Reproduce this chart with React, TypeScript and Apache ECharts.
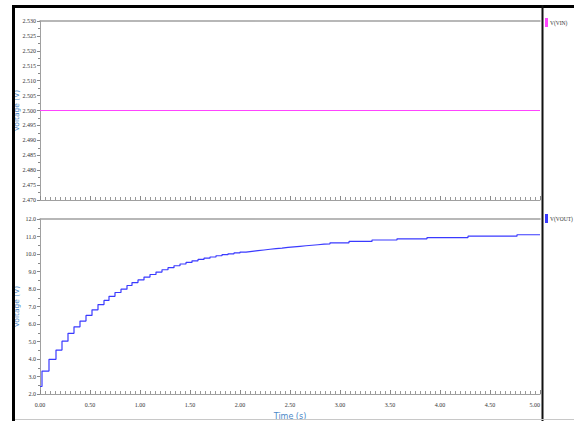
import React, { useEffect, useRef } from "react";
import * as echarts from "echarts";

// ---- data ----
const vinTime = [0.0, 5.0];
const vinLevel = [2.5, 2.5];

const voutTime = [
  0.0, 0.02, 0.09, 0.16, 0.22, 0.28, 0.34, 0.4, 0.46, 0.52, 0.58, 0.64, 0.69, 0.75, 0.81, 0.87, 0.92, 0.98,
  1.04, 1.1, 1.16, 1.22, 1.28, 1.34, 1.4, 1.46, 1.52, 1.58, 1.64, 1.7, 1.76, 1.82, 1.88, 1.94, 2.0, 2.06,
  2.12, 2.18, 2.24, 2.3, 2.36, 2.42, 2.48, 2.54, 2.6, 2.66, 2.72, 2.78, 2.84, 2.9, 3.09, 3.32, 3.57, 3.87,
  4.28, 4.77, 5.0,
];
const voutLevel = [
  2.43, 3.31, 3.98, 4.51, 5.02, 5.47, 5.84, 6.17, 6.49, 6.81, 7.11, 7.35, 7.58, 7.8, 7.99, 8.2, 8.37, 8.52,
  8.68, 8.83, 8.97, 9.1, 9.22, 9.33, 9.43, 9.52, 9.61, 9.69, 9.76, 9.83, 9.9, 9.96, 10.01, 10.06, 10.11,
  10.15, 10.19, 10.23, 10.27, 10.31, 10.34, 10.38, 10.41, 10.44, 10.47, 10.5, 10.53, 10.56, 10.58, 10.64,
  10.72, 10.8, 10.87, 10.94, 11.02, 11.1, 11.1,
];

const topYMin = 2.47;
const topYMax = 2.53;
const topYStep = 0.005;
const botYMin = 2.0;
const botYMax = 12.0;
const botYStep = 1.0;
const timeMin = 0;
const timeMax = 5;
const timeStep = 0.5;

const seriesNames = ["V(VIN)", "V(VOUT)"];
const seriesColors = ["#ff44ff", "#3a3aff"];

const labelFont = "Liberation Serif";
const nameFont = "DejaVu Sans";
const nameColor = "#4a88c8";
const axisGray = "#a0a0a0";

export default function App() {
  const ref = useRef<HTMLDivElement>(null);

  useEffect(() => {
    document.body.style.margin = "0";
    const chart = echarts.init(ref.current!, undefined, { renderer: "svg" });

    const yAxisCommon = (gridIndex: number, min: number, max: number, step: number, digits: number) => ({
      type: "value",
      gridIndex,
      min,
      max,
      interval: step,
      name: "Voltage (V)",
      nameLocation: "middle",
      nameGap: 20,
      nameMoveOverlap: false,
      nameTextStyle: { color: nameColor, fontFamily: nameFont, fontSize: 7.5 },
      axisLine: { show: true, lineStyle: { color: axisGray, width: 1 } },
      axisTick: { show: true, inside: false, length: 3, lineStyle: { color: "#888" } },
      minorTick: { show: true, splitNumber: 2, length: 2, lineStyle: { color: "#888" } },
      splitLine: { show: false },
      axisLabel: {
        show: true,
        margin: 4,
        fontSize: 6,
        fontFamily: labelFont,
        color: "#333",
        formatter: (v: number) => v.toFixed(digits),
      },
    });

    const xAxisCommon = (gridIndex: number, showLabel: boolean) => ({
      type: "value",
      gridIndex,
      min: timeMin,
      max: timeMax,
      interval: timeStep,
      name: showLabel ? "Time (s)" : "",
      nameLocation: "middle",
      nameGap: 18,
      nameMoveOverlap: false,
      nameTextStyle: { color: nameColor, fontFamily: nameFont, fontSize: 8 },
      axisLine: { show: true, onZero: false, lineStyle: { color: axisGray, width: 1 } },
      axisTick: { show: true, inside: true, length: 4, lineStyle: { color: "#888" } },
      minorTick: { show: true, splitNumber: 10, length: 3, lineStyle: { color: "#999" } },
      splitLine: { show: false },
      axisLabel: {
        show: showLabel,
        margin: 8,
        fontSize: 6,
        fontFamily: labelFont,
        color: "#333",
        alignMaxLabel: "right",
        formatter: (v: number) => v.toFixed(2),
      },
    });

    const topFrameAxis = (gridIndex: number) => ({
      type: "value",
      gridIndex,
      position: "top",
      min: timeMin,
      max: timeMax,
      axisLine: { show: true, onZero: false, lineStyle: { color: axisGray, width: 1.5 } },
      axisTick: { show: false },
      axisLabel: { show: false },
      splitLine: { show: false },
    });

    const legendCommon = {
      left: 545,
      orient: "vertical",
      icon: "rect",
      itemWidth: 3,
      itemHeight: 9,
      itemGap: 2,
      padding: 0,
      textStyle: { fontSize: 5.5, fontFamily: labelFont, color: "#333", padding: [0, 0, 0, -3] },
    };

    chart.setOption({
      animation: false,
      backgroundColor: "#ffffff",
      grid: [
        { left: 40, right: 34, top: 21, height: 179 },
        { left: 40, right: 34, top: 219, height: 177 },
      ],
      xAxis: [xAxisCommon(0, false), xAxisCommon(1, true), topFrameAxis(0), topFrameAxis(1)],
      yAxis: [
        yAxisCommon(0, topYMin, topYMax, topYStep, 3),
        yAxisCommon(1, botYMin, botYMax, botYStep, 1),
      ],
      legend: [
        { ...legendCommon, data: [seriesNames[0]], top: 18 },
        { ...legendCommon, data: [seriesNames[1]], top: 214 },
      ],
      series: [
        {
          name: seriesNames[0],
          type: "line",
          xAxisIndex: 0,
          yAxisIndex: 0,
          showSymbol: false,
          symbol: "none",
          lineStyle: { color: seriesColors[0], width: 1.2 },
          itemStyle: { color: seriesColors[0] },
          data: vinTime.map((t, i) => [t, vinLevel[i]]),
        },
        {
          name: seriesNames[1],
          type: "line",
          xAxisIndex: 1,
          yAxisIndex: 1,
          step: "end",
          showSymbol: false,
          symbol: "none",
          lineStyle: { color: seriesColors[1], width: 1.2 },
          itemStyle: { color: seriesColors[1] },
          data: voutTime.map((t, i) => [t, voutLevel[i]]),
        },
      ],
      graphic: [
        { type: "rect", shape: { x: 12, y: 5, width: 562, height: 3 }, style: { fill: "#000" }, z: 100 },
        { type: "rect", shape: { x: 12, y: 5, width: 3, height: 416 }, style: { fill: "#000" }, z: 100 },
        { type: "rect", shape: { x: 541.5, y: 5, width: 2, height: 416 }, style: { fill: "#111" }, z: 100 },
        { type: "line", shape: { x1: 15, y1: 419.5, x2: 574, y2: 419.5 }, style: { stroke: "#c8c8c8", lineWidth: 1 }, z: 100 },
      ],
    });

    return () => chart.dispose();
  }, []);

  return <div ref={ref} style={{ width: 574, height: 421 }} />;
}
